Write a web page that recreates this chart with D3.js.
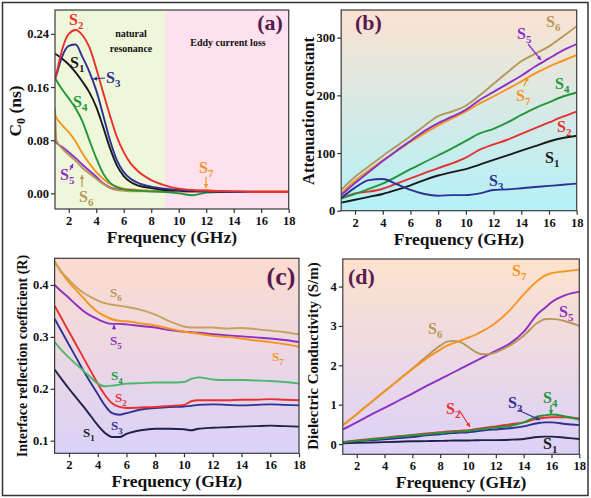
<!DOCTYPE html>
<html><head><meta charset="utf-8">
<script src="https://cdn.jsdelivr.net/npm/d3@7"></script>
<style>
body{margin:0;background:#fff;}
svg text{font-family:"Liberation Serif","DejaVu Serif",serif;font-weight:bold;}
</style></head>
<body><svg id="c" width="591" height="498"></svg>
<script>
// ---------- DATA ----------
const seriesNames = ["S1","S2","S3","S4","S5","S6","S7"];
const xTicks = [2,4,6,8,10,12,14,16,18];

// (a) C0 (ns)
const freqA = [1,1.1,1.5,2,2.5,3,3.5,4,4.5,5,5.5,6,6.5,7,8,9,10,11,12,13,14,15,16,17,18];
const a_S1 = [0.21,0.209,0.203,0.194,0.182,0.168,0.152,0.13,0.1,0.068,0.042,0.026,0.017,0.012,0.008,0.005,0.004,0.003,0.003,0.002,0.002,0.002,0.002,0.002,0.002];
const a_S2 = [0.172,0.18,0.215,0.24,0.246,0.238,0.22,0.188,0.152,0.117,0.085,0.062,0.045,0.034,0.02,0.012,0.007,0.005,0.004,0.003,0.003,0.002,0.002,0.002,0.002];
const a_S3 = [0.172,0.178,0.205,0.222,0.224,0.205,0.183,0.155,0.118,0.08,0.05,0.032,0.022,0.016,0.01,0.007,0.005,0.004,0.003,0.003,0.002,0.002,0.002,0.002,0.002];
const a_S4 = [0.173,0.17,0.157,0.143,0.128,0.108,0.08,0.053,0.03,0.016,0.009,0.006,0.005,0.004,0.003,0.002,0.0,-0.003,0.001,0.002,0.002,0.002,0.002,0.002,0.002];
const a_S5 = [0.078,0.076,0.07,0.062,0.053,0.043,0.034,0.025,0.015,0.009,0.006,0.005,0.004,0.004,0.003,0.003,0.003,0.003,0.003,0.003,0.003,0.003,0.003,0.003,0.003];
const a_S6 = [0.128,0.08,0.068,0.058,0.049,0.038,0.03,0.022,0.014,0.008,0.005,0.004,0.003,0.003,0.003,0.003,0.003,0.003,0.003,0.003,0.003,0.003,0.003,0.003,0.003];
const a_S7 = [0.118,0.114,0.103,0.092,0.078,0.06,0.045,0.032,0.022,0.014,0.01,0.007,0.006,0.005,0.004,0.003,0.003,0.003,0.005,0.003,0.002,0.002,0.003,0.003,0.003];
const yTicksA = [0,0.08,0.16,0.24];

// (b) Attenuation constant
const freqB = [1,2,3,4,5,6,7,8,9,10,11,12,13,14,15,16,17,18];
const b_S1 = [14,19,24,29,36,44,53,61,67,72,80,88,96,104,112,120,126,130];
const b_S2 = [22,30,33,38,47,56,65,74,82,92,106,115,123,133,143,153,163,172];
const b_S3 = [22,40,53,55,46,36,29,26,27,27,30,36,37,39,41,43,45,47];
const b_S4 = [21,29,38,47,59,72,84,96,108,121,134,142,153,166,178,188,198,205];
const b_S5 = [27,48,67,86,104,121,138,152,163,175,192,206,220,234,250,264,278,289];
const b_S6 = [36,59,77,95,112,129,147,164,172,182,200,220,240,259,272,285,302,320];
const b_S7 = [30,52,70,87,103,119,134,148,160,172,186,198,211,224,238,250,260,270];
const yTicksB = [0,100,200,300];

// (c) Interface reflection coefficient (R)
const freqC = [1,1.5,2,2.5,3,3.5,4,4.5,5,5.5,6,7,8,9,10,10.5,11,12,13,14,15,16,17,18];
const c_S1 = [0.237,0.218,0.2,0.183,0.166,0.148,0.13,0.115,0.107,0.107,0.113,0.12,0.123,0.123,0.122,0.12,0.123,0.125,0.126,0.127,0.128,0.129,0.128,0.127];
const c_S2 = [0.36,0.335,0.31,0.285,0.26,0.235,0.21,0.188,0.172,0.165,0.163,0.164,0.165,0.167,0.169,0.176,0.178,0.178,0.178,0.179,0.179,0.18,0.179,0.178];
const c_S3 = [0.335,0.31,0.285,0.26,0.235,0.212,0.19,0.168,0.153,0.15,0.153,0.16,0.163,0.165,0.166,0.167,0.169,0.17,0.169,0.168,0.169,0.17,0.169,0.168];
const c_S4 = [0.29,0.274,0.26,0.247,0.235,0.222,0.21,0.205,0.206,0.208,0.21,0.211,0.212,0.212,0.213,0.219,0.222,0.218,0.217,0.217,0.216,0.215,0.213,0.21];
const c_S5 = [0.4,0.387,0.375,0.362,0.35,0.341,0.334,0.328,0.325,0.325,0.324,0.321,0.318,0.313,0.31,0.309,0.308,0.305,0.303,0.301,0.299,0.297,0.294,0.29];
const c_S6 = [0.445,0.425,0.41,0.396,0.385,0.377,0.37,0.365,0.362,0.36,0.358,0.352,0.343,0.33,0.32,0.318,0.318,0.318,0.316,0.317,0.315,0.312,0.309,0.305];
const c_S7 = [0.445,0.423,0.405,0.39,0.375,0.36,0.348,0.34,0.334,0.331,0.33,0.326,0.322,0.316,0.31,0.308,0.306,0.302,0.3,0.297,0.293,0.29,0.286,0.281];
const yTicksC = [0.1,0.2,0.3,0.4];

// (d) Dielectric Conductivity (S/m)
const freqD = [1,2,3,4,5,6,7,8,8.5,9,9.5,10,10.5,11,11.5,12,13,14,15,15.5,16,17,18];
const d_S1 = [0.02,0.03,0.04,0.05,0.06,0.07,0.075,0.08,0.085,0.09,0.09,0.09,0.095,0.1,0.1,0.1,0.11,0.13,0.18,0.19,0.19,0.16,0.13];
const d_S2 = [0.05,0.09,0.13,0.16,0.2,0.23,0.27,0.3,0.32,0.33,0.34,0.35,0.38,0.4,0.43,0.45,0.5,0.55,0.65,0.67,0.68,0.68,0.65];
const d_S3 = [0.04,0.07,0.1,0.12,0.15,0.18,0.22,0.25,0.27,0.28,0.29,0.3,0.32,0.34,0.36,0.37,0.4,0.45,0.53,0.55,0.55,0.51,0.48];
const d_S4 = [0.05,0.08,0.12,0.15,0.19,0.22,0.25,0.28,0.3,0.31,0.32,0.33,0.36,0.38,0.4,0.42,0.46,0.55,0.7,0.73,0.75,0.7,0.62];
const d_S5 = [0.37,0.55,0.74,0.92,1.1,1.28,1.47,1.65,1.74,1.83,1.92,2.01,2.1,2.19,2.28,2.37,2.55,2.85,3.3,3.45,3.6,3.78,3.87];
const d_S6 = [0.48,0.76,1.05,1.34,1.63,1.92,2.22,2.5,2.6,2.62,2.58,2.47,2.35,2.28,2.28,2.33,2.5,2.75,3.08,3.17,3.18,3.12,3.0];
const d_S7 = [0.48,0.76,1.05,1.34,1.62,1.9,2.17,2.4,2.5,2.57,2.63,2.7,2.77,2.86,2.96,3.08,3.4,3.8,4.15,4.27,4.34,4.39,4.43];
const yTicksD = [0,1,2,3,4];

// ---------- STYLE ----------
const colors = {S1:"#1a1a1a",S2:"#e8302f",S3:"#2e3192",S4:"#23963a",S5:"#8e2fc4",S6:"#b8965a",S7:"#f7941d"};
const svg = d3.select("#c");
const defs = svg.append("defs");
function grad(id, top, bottom){
  const g = defs.append("linearGradient").attr("id",id).attr("x1",0).attr("y1",0).attr("x2",0).attr("y2",1);
  g.append("stop").attr("offset","0%").attr("stop-color",top);
  g.append("stop").attr("offset","100%").attr("stop-color",bottom);
}
grad("gb","#fbe2d2","#b3f1f8");
grad("gc","#fcdccf","#dbd2f8");
grad("gd","#fde2cd","#dcd1f9");

// outer frame
svg.append("rect").attr("x",2.5).attr("y",2.5).attr("width",585.5).attr("height",493).attr("fill","none").attr("stroke","#333").attr("stroke-width",1.5);

function sublabel(g,x,y,num,color,size){
  const t = g.append("text").attr("x",x).attr("y",y).attr("fill",color).attr("font-size",size);
  t.append("tspan").text("S");
  t.append("tspan").attr("dy",size*0.28).attr("font-size",size*0.68).text(num);
}
function arrow(g,x1,y1,x2,y2,color){
  g.append("line").attr("x1",x1).attr("y1",y1).attr("x2",x2).attr("y2",y2).attr("stroke",color).attr("stroke-width",1.2);
  const ang = Math.atan2(y2-y1,x2-x1), L=4, W=2.2;
  const p = [[x2,y2],[x2-L*Math.cos(ang)+W*Math.sin(ang), y2-L*Math.sin(ang)-W*Math.cos(ang)],[x2-L*Math.cos(ang)-W*Math.sin(ang), y2-L*Math.sin(ang)+W*Math.cos(ang)]];
  g.append("path").attr("d","M"+p.map(d=>d.join(",")).join("L")+"Z").attr("fill",color);
}

function panel(o){
  const x = d3.scaleLinear().domain([1,18]).range([o.l,o.r]);
  const y = d3.scaleLinear().domain(o.yd).range([o.b,o.t]);
  const g = svg.append("g");
  const cid = "clip"+o.id;
  defs.append("clipPath").attr("id",cid).append("rect").attr("x",o.l).attr("y",o.t).attr("width",o.r-o.l).attr("height",o.b-o.t);
  if(o.bg) o.bg(g,x,y);
  const line = d3.line().x((d,i)=>x(o.freq[i])).y(d=>y(d)).curve(d3.curveMonotoneX);
  const lg = g.append("g").attr("clip-path","url(#"+cid+")");
  o.order.forEach(k=>{
    lg.append("path").attr("d",line(o.data[k])).attr("fill","none").attr("stroke",o.col[k]||colors[k]).attr("stroke-width",1.9).attr("stroke-linejoin","round");
  });
  g.append("rect").attr("x",o.l).attr("y",o.t).attr("width",o.r-o.l).attr("height",o.b-o.t).attr("fill","none").attr("stroke","#3a3a3a").attr("stroke-width",1.2);
  const xa = g.append("g").attr("transform",`translate(0,${o.b})`).call(d3.axisBottom(x).tickValues(xTicks).tickSize(4).tickSizeOuter(0).tickPadding(3));
  const ya = g.append("g").attr("transform",`translate(${o.l},0)`).call(d3.axisLeft(y).tickValues(o.yt).tickFormat(o.fmt).tickSize(4).tickSizeOuter(0).tickPadding(2));
  [xa,ya].forEach(a=>{a.select(".domain").remove(); a.selectAll("line").attr("stroke","#333").attr("stroke-width",1.2); a.selectAll("text").attr("font-size",12.5).attr("fill","#111").attr("font-family","Liberation Serif, serif").attr("font-weight","bold");});
  g.append("text").attr("x",(o.l+o.r)/2).attr("y",o.b+34).attr("text-anchor","middle").attr("font-size",17.5).attr("fill","#111").text("Frequency (GHz)");
  return {g,x,y};
}

// ---------- (a) ----------
const A = panel({id:"a",l:55,r:288.7,t:10,b:209,yd:[-0.0236,0.276],yt:yTicksA,fmt:d3.format(".2f"),freq:freqA,
  data:{S1:a_S1,S2:a_S2,S3:a_S3,S4:a_S4,S5:a_S5,S6:a_S6,S7:a_S7},order:["S5","S6","S7","S4","S1","S3","S2"],col:{},
  bg:(g,x,y)=>{
    g.append("rect").attr("x",x(1)).attr("y",y(0.276)).attr("width",x(9)-x(1)).attr("height",y(-0.0236)-y(0.276)).attr("fill","#eef7da");
    g.append("rect").attr("x",x(9)).attr("y",y(0.276)).attr("width",x(18)-x(9)).attr("height",y(-0.0236)-y(0.276)).attr("fill","#fde1ee");
  }});
A.g.append("text").attr("transform","translate(21,111) rotate(-90)").attr("text-anchor","middle").attr("font-size",17.5).attr("fill","#111")
  .call(t=>{t.append("tspan").text("C");t.append("tspan").attr("dy",4).attr("font-size",12).text("0");t.append("tspan").attr("dy",-4).text(" (ns)");});
A.g.append("text").attr("x",270).attr("y",30).attr("text-anchor","middle").attr("font-size",22).attr("fill","#5b1a4f").text("(a)");
A.g.append("text").attr("x",131).attr("y",37).attr("text-anchor","middle").attr("font-size",10).attr("fill","#111").text("natural");
A.g.append("text").attr("x",131).attr("y",52).attr("text-anchor","middle").attr("font-size",10).attr("fill","#111").text("resonance");
A.g.append("text").attr("x",228).attr("y",46).attr("text-anchor","middle").attr("font-size",10).attr("fill","#111").text("Eddy current loss");
sublabel(A.g,69,25,"2",colors.S2,16);
sublabel(A.g,70,68,"1",colors.S1,16);
sublabel(A.g,106,83,"3",colors.S3,16);
arrow(A.g,105,78,93,79,colors.S3);
sublabel(A.g,73,107,"4",colors.S4,16);
sublabel(A.g,60,180,"5",colors.S5,16);
arrow(A.g,70,170,73,164,colors.S5);
sublabel(A.g,79,202,"6",colors.S6,16);
arrow(A.g,82,187,82,175,colors.S6);
sublabel(A.g,199,173,"7",colors.S7,16);
arrow(A.g,206,177,206,188,colors.S7);

// ---------- (b) ----------
const B = panel({id:"b",l:341.2,r:576.7,t:10,b:210.7,yd:[0,348],yt:yTicksB,fmt:d3.format("d"),freq:freqB,
  data:{S1:b_S1,S2:b_S2,S3:b_S3,S4:b_S4,S5:b_S5,S6:b_S6,S7:b_S7},order:["S1","S2","S4","S7","S5","S6","S3"],col:{},
  bg:(g,x,y)=>{ g.append("rect").attr("x",x(1)).attr("y",y(348)).attr("width",x(18)-x(1)).attr("height",y(0)-y(348)).attr("fill","url(#gb)"); }});
B.g.append("text").attr("transform","translate(314,111) rotate(-90)").attr("text-anchor","middle").attr("font-size",16.5).attr("fill","#111").text("Attenuation constant");
B.g.append("text").attr("x",355).attr("y",30).attr("font-size",22).attr("fill","#5b1a4f").text("(b)");
sublabel(B.g,546,27,"6",colors.S6,16);
sublabel(B.g,517,39,"5",colors.S5,16);
arrow(B.g,528,44,541,60,colors.S5);
sublabel(B.g,516,101,"7",colors.S7,16);
arrow(B.g,524,86,528,77,colors.S7);
sublabel(B.g,555,89,"4",colors.S4,16);
sublabel(B.g,557,132,"2",colors.S2,16);
sublabel(B.g,545,163,"1",colors.S1,16);
sublabel(B.g,489,186,"3",colors.S3,16);

// ---------- (c) ----------
const C = panel({id:"c",l:54.6,r:299,t:258.3,b:453.3,yd:[0.0757,0.4514],yt:yTicksC,fmt:d3.format(".1f"),freq:freqC,
  data:{S1:c_S1,S2:c_S2,S3:c_S3,S4:c_S4,S5:c_S5,S6:c_S6,S7:c_S7},order:["S1","S3","S2","S4","S5","S7","S6"],col:{S1:"#20204a",S4:"#4bb86a",S6:"#c4a45c"},
  bg:(g,x,y)=>{ g.append("rect").attr("x",x(1)).attr("y",y(0.4514)).attr("width",x(18)-x(1)).attr("height",y(0.0757)-y(0.4514)).attr("fill","url(#gc)"); }});
C.g.append("text").attr("transform","translate(27,356) rotate(-90)").attr("text-anchor","middle").attr("font-size",14).attr("fill","#111").text("Interface reflection coefficient (R)");
C.g.append("text").attr("x",281).attr("y",285).attr("text-anchor","middle").attr("font-size",26).attr("fill","#5b1a4f").text("(c)");
sublabel(C.g,110,297,"6",colors.S6,13);
sublabel(C.g,110,345,"5",colors.S5,13);
arrow(C.g,114,330,114,325,colors.S5);
sublabel(C.g,272,361,"7",colors.S7,13);
sublabel(C.g,111,380,"4",colors.S4,13);
sublabel(C.g,115,402,"2",colors.S2,13);
sublabel(C.g,111,430,"3",colors.S3,13);
sublabel(C.g,83,437,"1",colors.S1,13);

// ---------- (d) ----------
const D = panel({id:"d",l:342.8,r:579.3,t:259,b:454.3,yd:[-0.26,4.70],yt:yTicksD,fmt:d3.format("d"),freq:freqD,
  data:{S1:d_S1,S2:d_S2,S3:d_S3,S4:d_S4,S5:d_S5,S6:d_S6,S7:d_S7},order:["S1","S3","S2","S4","S5","S6","S7"],col:{S1:"#20204a"},
  bg:(g,x,y)=>{ g.append("rect").attr("x",x(1)).attr("y",y(4.70)).attr("width",x(18)-x(1)).attr("height",y(-0.26)-y(4.70)).attr("fill","url(#gd)"); }});
D.g.append("text").attr("transform","translate(318,356) rotate(-90)").attr("text-anchor","middle").attr("font-size",15).attr("fill","#111").text("Dielectric Conductivity (S/m)");
D.g.append("text").attr("x",348).attr("y",284).attr("font-size",22).attr("fill","#5b1a4f").text("(d)");
sublabel(D.g,512,276,"7",colors.S7,16);
sublabel(D.g,559,317,"5",colors.S5,16);
sublabel(D.g,428,334,"6",colors.S6,16);
sublabel(D.g,508,408,"3",colors.S3,16);
arrow(D.g,518,410,540,420,colors.S3);
sublabel(D.g,543,403,"4",colors.S4,16);
arrow(D.g,551,405,551,414,colors.S4);
sublabel(D.g,446,414,"2",colors.S2,16);
arrow(D.g,459,410,470,427,colors.S2);
sublabel(D.g,543,449,"1",colors.S1,16);
</script></body></html>
